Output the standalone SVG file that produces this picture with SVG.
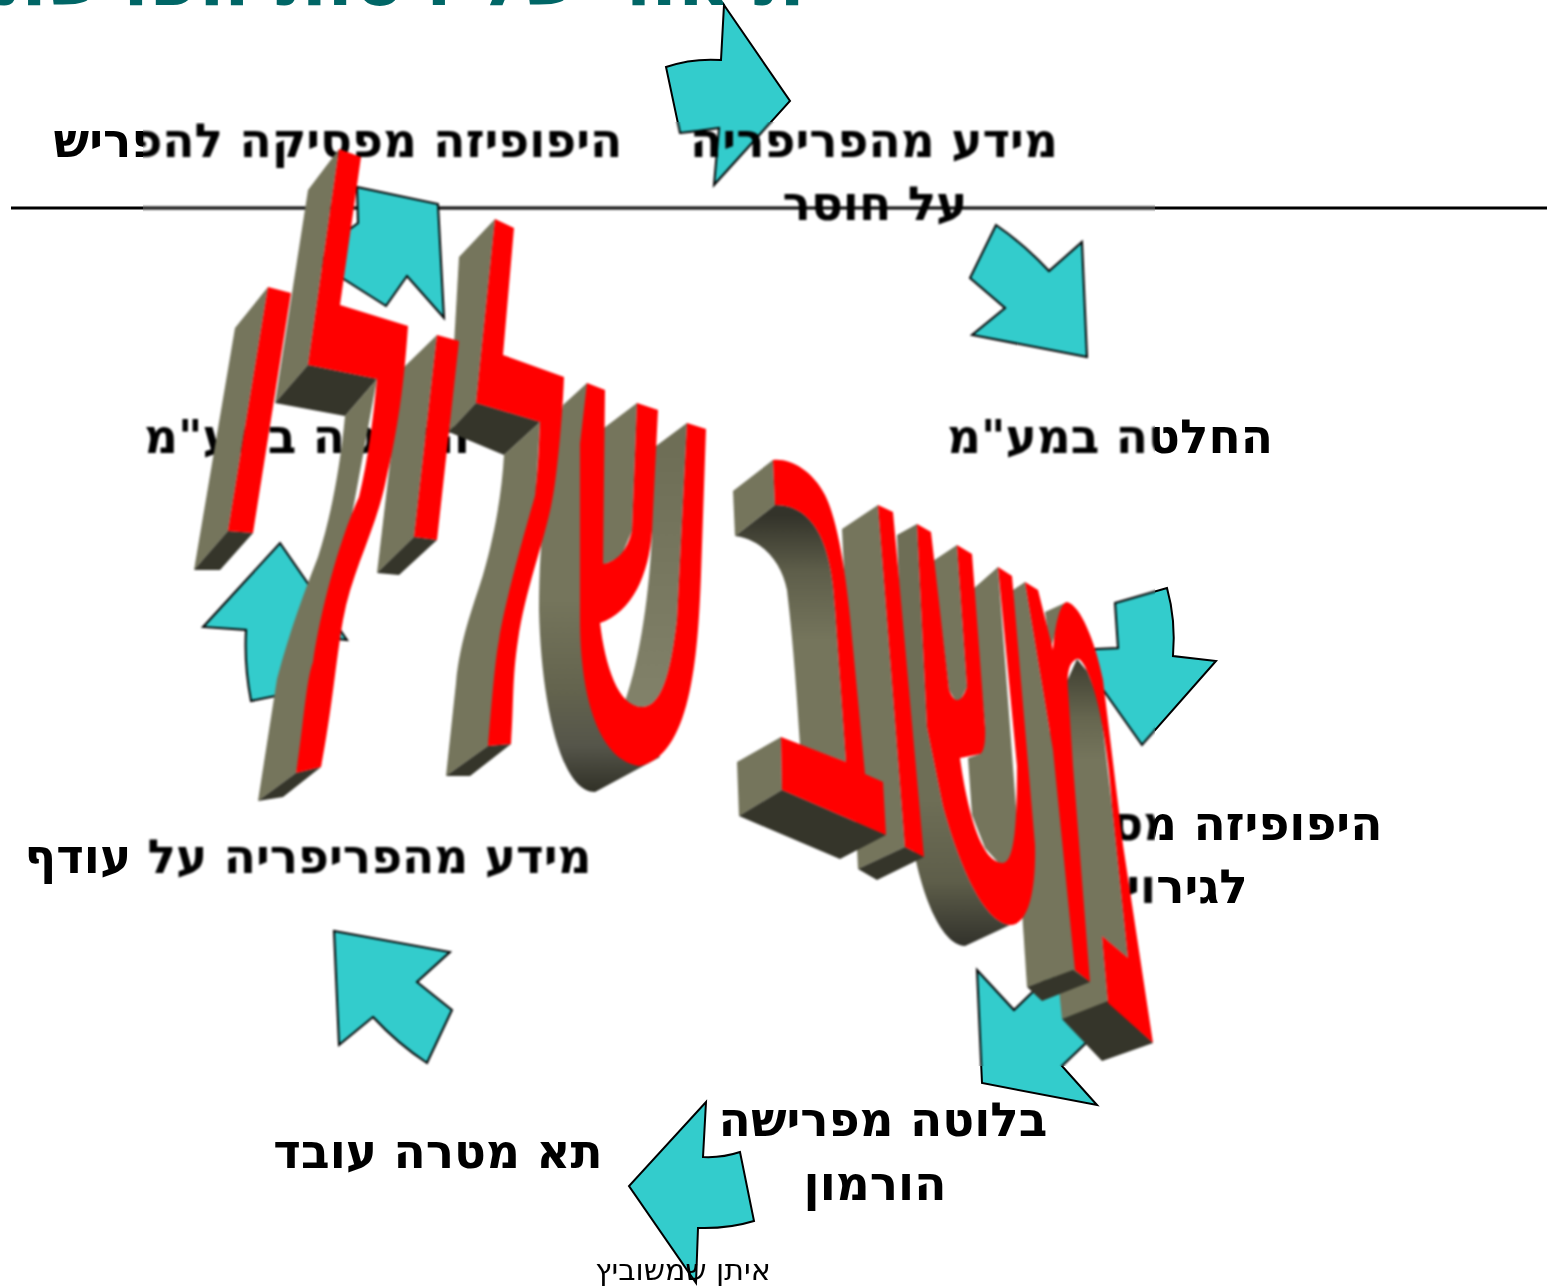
<svg xmlns="http://www.w3.org/2000/svg" width="1549" height="1287" viewBox="0 0 1549 1287">
<style>
text{font-family:"DejaVu Sans","Liberation Sans",sans-serif;fill:#000;text-anchor:middle}
.n{font-size:47px;font-weight:700}
.f{font-size:30px}
.t{font-size:75px;font-weight:700;fill:#006666;text-anchor:end}
.a{fill:#33CCCC;stroke:#000;stroke-width:2;stroke-linejoin:miter}
.r{fill:#FF0000}
.s{fill:#75755C}
.u{fill:#35352A}
</style>
<defs>
<filter id="overlay" filterUnits="userSpaceOnUse" primitiveUnits="userSpaceOnUse" x="0" y="0" width="1549" height="1287" color-interpolation-filters="sRGB">
<feOffset in="SourceGraphic" dx="0" dy="0" x="0" y="0" width="143" height="1287" result="l"/>
<feOffset in="SourceGraphic" dx="0" dy="0" x="1155" y="0" width="394" height="1287" result="r"/>
<feOffset in="SourceGraphic" dx="0" dy="0" x="143" y="0" width="1012" height="122" result="t"/>
<feOffset in="SourceGraphic" dx="0" dy="0" x="143" y="1066" width="1012" height="221" result="b"/>
<feGaussianBlur in="SourceGraphic" stdDeviation="0.85" x="143" y="122" width="1012" height="944" result="m"/>
<feMerge><feMergeNode in="l"/><feMergeNode in="r"/><feMergeNode in="t"/><feMergeNode in="b"/><feMergeNode in="m"/></feMerge>
</filter>
<linearGradient id="g1" gradientUnits="userSpaceOnUse" x1="0" y1="600" x2="0" y2="795"><stop offset="0" stop-color="#75755C"/><stop offset=".45" stop-color="#64644E"/><stop offset=".75" stop-color="#55554A"/><stop offset="1" stop-color="#2E2E24"/></linearGradient>
<linearGradient id="g5" gradientUnits="userSpaceOnUse" x1="0" y1="449" x2="0" y2="707"><stop offset="0" stop-color="#6E6E56"/><stop offset="1" stop-color="#82826A"/></linearGradient>
<linearGradient id="g2" gradientUnits="userSpaceOnUse" x1="0" y1="515" x2="0" y2="640"><stop offset="0" stop-color="#33332A"/><stop offset=".45" stop-color="#5E5E4A"/><stop offset="1" stop-color="#75755C"/></linearGradient>
<linearGradient id="g3" gradientUnits="userSpaceOnUse" x1="0" y1="800" x2="0" y2="948"><stop offset="0" stop-color="#6E6E56"/><stop offset=".55" stop-color="#5E5E4A"/><stop offset="1" stop-color="#30302A"/></linearGradient>
<linearGradient id="g4" gradientUnits="userSpaceOnUse" x1="0" y1="655" x2="0" y2="760"><stop offset="0" stop-color="#3A3A2E"/><stop offset=".6" stop-color="#66664F"/><stop offset="1" stop-color="#75755C"/></linearGradient>
</defs>
<g filter="url(#overlay)">
<text id="title" class="t" x="805" y="5">תיאור של ויסות הפרשת הורמונים</text>
<line id="rule" x1="11" y1="208" x2="1547" y2="208" stroke="#000" stroke-width="3"/>
<g id="connectors">
<path class="a" d="M724 5L790 101L714 185L719 128Q700 131 680 133L666 67Q692 58 721 60Z"/>
<path class="a" d="M996 225Q1024 244 1049 271L1082 242L1087 357L972 335L1005 308L970 278Z"/>
<path class="a" d="M1115 603L1167 588Q1176 620 1173 656L1216 661L1142 745L1075 650L1118 648Z"/>
<path class="a" d="M977 970L1014 1010L1050 975L1110 1020L1062 1066L1097 1105L982 1083Z"/>
<path class="a" d="M706 1102L703 1157Q722 1158 740 1152L754 1221Q728 1229 698 1228L696 1283L629 1186Z"/>
<path class="a" d="M334 931L450 952L417 982L452 1010L427 1063Q398 1044 373 1017L339 1045Z"/>
<path class="a" d="M280 543L347 640L300 635L305 690L251 701Q244 665 246 630L203 627Z"/>
<path class="a" d="M438 204L444 318L407 276L386 306L320 264L335 240L358 223L357 187Z"/>
</g>
<g id="node-stop"><text class="n" x="338" y="157">היפופיזה מפסיקה להפריש</text></g>
<g id="node-info-low"><text class="n" x="874" y="157">מידע מהפריפריה</text><text class="n" x="875" y="220">על חוסר</text></g>
<g id="node-decide-right"><text class="n" x="1110" y="453">החלטה במע"מ</text></g>
<g id="node-decide-left"><text class="n" x="307" y="453">החלטה במע"מ</text></g>
<g id="node-pituitary"><text class="n" x="1190" y="840">היפופיזה מסתגלת</text><text class="n" x="1187" y="903">לגירוי</text></g>
<g id="node-info-high"><text class="n" x="308" y="873">מידע מהפריפריה על עודף</text></g>
<g id="node-target"><text class="n" x="438" y="1168">תא מטרה עובד</text></g>
<g id="node-gland"><text class="n" x="883" y="1136">בלוטה מפרישה</text><text class="n" x="875" y="1200">הורמון</text></g>
<g id="credit"><text class="f" x="683" y="1280">איתן שמשוביץ</text></g>
<g id="wordart-negative">
<!-- shin -->
<path fill="url(#g1)" d="M587 383L563 405C548 470 539 530 539 610C541 700 560 792 595 792L660 757L630 730L592 620L592 430Z"/>
<path class="s" d="M600 431L637 403L632 531L621 557L600 566Z"/>
<path fill="url(#g5)" d="M652 449L687 423L677 620C672 660 665 707 642 707C638 707 630 705 625 701C640 660 650 590 652 531Z"/>
<path class="r" d="M587 383L605 390L603 564Q625 560 632 531L637 403L658 410L652 531C649 575 632 612 600 623C605 665 618 707 642 707C665 707 672 660 677 620L687 423L706 429L701 575C698 660 690 757 639 766C600 760 580 700 580 618L580 444Z"/>
<!-- lamed 2 -->
<path class="s" d="M459 257L495 219L476 403L449 432Z"/>
<path class="u" d="M476 403L540 422L504 455L449 432Z"/>
<path class="s" d="M540 422L504 455C502 490 496 530 483 575C472 610 460 640 456 683L446 776L488 746L532 560Z"/>
<path class="u" d="M446 776L470 776L511 744L488 746Z"/>
<path class="r" d="M495 219L514 228L503 355L564 377C562 430 555 490 552 501C545 540 525 590 518 640C512 680 514 700 511 744L488 746C492 700 495 660 499 640C503 610 525 530 535 496C538 470 539 445 540 422L476 403Z"/>
<!-- yod 3 -->
<path class="s" d="M401 370L437 335L414 537L377 573Z"/>
<path class="u" d="M377 573L399 575L437 540L414 537Z"/>
<path class="r" d="M437 335L459 341L437 540L414 537Z"/>
<!-- lamed 1 -->
<path class="s" d="M308 190L339 149L308 365L275 403Z"/>
<path class="u" d="M308 365L377 379L345 416L275 403Z"/>
<path class="s" d="M377 379L345 416C340 470 330 520 318 557C305 590 290 630 277 679L258 801L296 773L340 580Z"/>
<path class="u" d="M258 801L283 797L321 767L296 773Z"/>
<path class="r" d="M339 149L361 157L340 305L408 326C403 400 395 440 386 480C376 530 352 570 343 620C336 660 332 710 321 767L296 773C303 730 306 680 313 662C318 625 335 550 359 497C368 460 373 420 377 379L308 365Z"/>
<!-- yod 1 -->
<path class="s" d="M235 328L268 287L228 531L194 570Z"/>
<path class="u" d="M194 570L220 570L253 533L228 531Z"/>
<path class="r" d="M268 287L291 293L253 533L228 531Z"/>
</g>
<g id="wordart-feedback">
<!-- mem -->
<path fill="url(#g4)" d="M1068 679L1077 659L1087 671L1100 703L1112 806L1128 958L1102 936L1108 1003L1062 1019L1050 900L1050 700Z"/>
<path class="u" d="M1062 1019L1108 1001L1153 1043L1102 1061Z"/>
<path class="s" d="M1045 612L1067 602L1058 625L1050 650Z"/>
<path class="s" d="M1013 590L1025 582L1053 750L1075 970L1027 987L1020 880Z"/>
<path class="u" d="M1027 987L1073 970L1090 982L1042 1001Z"/>
<path class="r" d="M1025 582L1038 590L1053 650C1055 625 1060 603 1067 602C1080 605 1095 640 1103 680L1123 845L1153 1043L1108 1003L1102 936L1128 958L1112 806C1108 750 1100 700 1087 671Q1080 655 1075 660Q1066 665 1068 690L1073 766L1090 982L1075 970L1053 750Z"/>
<!-- shin -->
<path fill="url(#g3)" d="M897 535L917 524L927 727L943 806C955 850 980 922 1010 925L965 946C940 945 920 890 912 840L905 750Z"/>
<path class="s" d="M933 561L957 545L967 687L958 705L949 690Z"/>
<path class="s" d="M972 590L998 567L1020 860L1003 868L985 848L972 815L968 758L980 754L985 727Z"/>
<path class="r" d="M917 524L931 532L949 690Q958 712 967 687L957 545L972 554L985 727Q986 750 980 754L960 758C965 795 978 863 1003 863C1015 862 1017 820 1017 766L998 567L1012 576L1035 845C1036 885 1030 925 1010 925C980 922 955 850 943 806L927 727Z"/>
<!-- vav -->
<path class="s" d="M842 529L878 505L905 847L858 869Z"/>
<path class="u" d="M858 869L877 880L924 857L905 847Z"/>
<path class="r" d="M878 505L893 512L924 857L905 847Z"/>
<!-- bet -->
<path fill="url(#g2)" d="M735 536C765 540 782 565 787 590C794 650 797 700 800 745L846 762L835 608C833 570 825 505 775 505Z"/>
<path class="s" d="M733 491L773 460L775 505L735 536Z"/>
<path class="s" d="M737 762L781 737L782 790L739 816Z"/>
<path class="u" d="M739 816L782 790L886 835L840 859Z"/>
<path class="r" d="M773 460C790 458 812 470 825 495C840 525 848 590 853 648L865 774L883 782L886 835L782 790L781 737L846 762L835 608C833 570 825 505 775 505Z"/>
</g>
</g>
</svg>
